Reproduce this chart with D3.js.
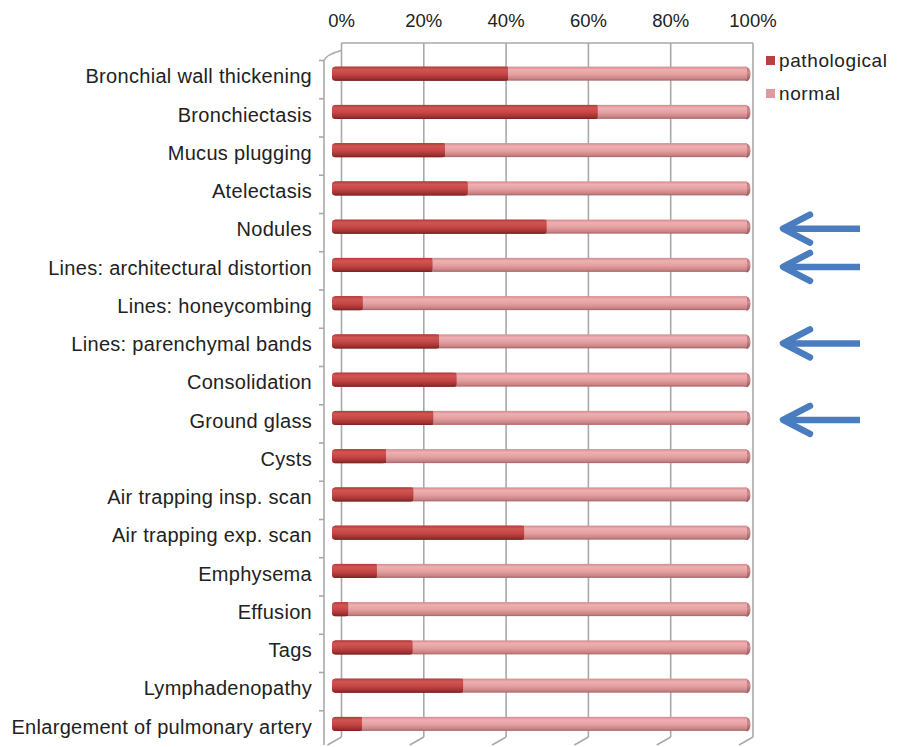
<!DOCTYPE html>
<html>
<head>
<meta charset="utf-8">
<script src="https://cdn.jsdelivr.net/npm/d3@7"></script>
<style>
  html, body { margin: 0; padding: 0; background: #fff; }
  svg { display: block; }
  text { font-family: "Liberation Sans", Arial, Helvetica, sans-serif; fill: #222; }
</style>
</head>
<body>
<svg id="chart" width="897" height="747"></svg>
<script>
// CT findings: share of pathological vs normal readings
const categories = [
  "Bronchial wall thickening",
  "Bronchiectasis",
  "Mucus plugging",
  "Atelectasis",
  "Nodules",
  "Lines: architectural distortion",
  "Lines: honeycombing",
  "Lines: parenchymal bands",
  "Consolidation",
  "Ground glass",
  "Cysts",
  "Air trapping insp. scan",
  "Air trapping exp. scan",
  "Emphysema",
  "Effusion",
  "Tags",
  "Lymphadenopathy",
  "Enlargement of pulmonary artery"
];
const pathological = [42.4, 64.0, 27.2, 32.7, 51.7, 24.2, 7.4, 25.8, 30.0, 24.4, 13.0, 19.6, 46.3, 10.8, 3.9, 19.4, 31.6, 7.2];
const normal = pathological.map(v => 100 - v);
const seriesNames = ["pathological", "normal"];
const tickValues = [0, 20, 40, 60, 80, 100];
const highlighted = ["Nodules", "Lines: architectural distortion", "Lines: parenchymal bands", "Ground glass"];

const svg = d3.select("#chart");
const defs = svg.append("defs");

// front face of the bars and back wall of the 3D plot area
const xFront = d3.scaleLinear().domain([0, 100]).range([332, 747]);
const xBack = d3.scaleLinear().domain([0, 100]).range([341.5, 753]);
const y = d3.scaleBand().domain(categories).range([54.5, 743]).padding(0);
const barH = 14;
const wallTop = 43, wallBottom = 737, frontBottom = 745, sideX = 324;

// shaded gradients for the cylinder-like bars
function grad(id, stops) {
  const g = defs.append("linearGradient").attr("id", id)
    .attr("x1", 0).attr("y1", 0).attr("x2", 0).attr("y2", 1);
  stops.forEach(([o, c]) => g.append("stop").attr("offset", o).attr("stop-color", c));
}
grad("gPath", [[0, "#b23a3a"], [0.22, "#d05653"], [0.55, "#c44645"], [0.85, "#a03131"], [1, "#7a2222"]]);
grad("gNorm", [[0, "#d48a8c"], [0.22, "#eeb0b2"], [0.55, "#e59fa1"], [0.85, "#c98486"], [1, "#a46365"]]);
grad("gCap", [[0, "#bd7274"], [0.4, "#d08a8c"], [1, "#975658"]]);

const grid = svg.append("g").attr("stroke", "#a9a9a9").attr("stroke-width", 1.6).attr("fill", "none");

// back wall: vertical gridlines and top edge
grid.selectAll("line.v").data(tickValues).join("line")
  .attr("x1", d => xBack(d)).attr("x2", d => xBack(d))
  .attr("y1", wallTop).attr("y2", wallBottom);
grid.append("line").attr("x1", xBack(0)).attr("x2", xBack(100)).attr("y1", wallTop).attr("y2", wallTop);

// floor: short receding lines at each gridline
grid.selectAll("line.f").data(tickValues).join("line")
  .attr("x1", d => xBack(d) - 14).attr("y1", frontBottom)
  .attr("x2", d => xBack(d)).attr("y2", wallBottom);

// side wall with category ticks
const sideTop = y(categories[0]) + 6;
grid.append("line").attr("x1", sideX).attr("x2", sideX).attr("y1", sideTop).attr("y2", frontBottom);
grid.append("path").attr("d", `M${sideX},${sideTop} Q${sideX + 2},${sideTop - 6} ${xBack(0)},${sideTop - 10}`);
grid.selectAll("line.t").data(categories).join("line")
  .attr("x1", sideX - 5).attr("x2", sideX)
  .attr("y1", d => y(d) + 6).attr("y2", d => y(d) + 6);

// top percentage axis
svg.append("g").selectAll("text").data(tickValues).join("text")
  .attr("x", d => xBack(d)).attr("y", 27)
  .attr("text-anchor", "middle")
  .style("font-size", "18.5px")
  .text(d => d + "%");

// category labels
svg.append("g").selectAll("text").data(categories).join("text")
  .attr("x", 312).attr("y", d => y(d) + y.bandwidth() / 2 + 9.7)
  .attr("text-anchor", "end")
  .style("font-size", "20px")
  .style("letter-spacing", "0.3px")
  .text(d => d);

// stacked bars
const rows = categories.map((c, i) => ({ c, p: pathological[i], n: normal[i] }));
const bars = svg.append("g").selectAll("g").data(rows).join("g")
  .attr("transform", d => `translate(0,${y(d.c) + y.bandwidth() / 2 - barH / 2})`);

// right end cap of each bar
bars.append("ellipse")
  .attr("cx", xFront(100)).attr("cy", barH / 2 + 0.5)
  .attr("rx", 3.5).attr("ry", barH / 2)
  .attr("fill", "url(#gCap)");
bars.append("rect")
  .attr("x", d => xFront(d.p)).attr("y", 0)
  .attr("width", d => xFront(100) - xFront(d.p)).attr("height", barH)
  .attr("fill", "url(#gNorm)");
bars.append("rect")
  .attr("x", xFront(0)).attr("y", 0)
  .attr("width", d => xFront(d.p) - xFront(0)).attr("height", barH)
  .attr("rx", 3).attr("fill", "url(#gPath)");
bars.append("rect")
  .attr("x", xFront(0) + 3).attr("y", 0)
  .attr("width", d => Math.max(0, xFront(d.p) - xFront(0) - 3)).attr("height", barH)
  .attr("fill", "url(#gPath)");

// legend
const legColors = ["#b8403f", "#dc9c9e"];
const leg = svg.append("g").selectAll("g").data(seriesNames).join("g")
  .attr("transform", (d, i) => `translate(766,${56 + i * 33})`);
leg.append("rect").attr("width", 9).attr("height", 9).attr("fill", (d, i) => legColors[i]);
leg.append("text").attr("x", 13).attr("y", 11)
  .style("font-size", "19px").style("letter-spacing", "0.6px")
  .text(d => d);

// arrows marking the findings of interest
const arrows = svg.append("g").attr("stroke", "#4a7dbf").attr("stroke-width", 6.5)
  .attr("stroke-linecap", "round").attr("stroke-linejoin", "round").attr("fill", "none");
highlighted.forEach(c => {
  const cy = y(c) + y.bandwidth() / 2 + 2;
  arrows.append("line").attr("x1", 860).attr("x2", 786).attr("y1", cy).attr("y2", cy)
    .attr("stroke-linecap", "butt");
  arrows.append("polyline").attr("points", `810,${cy - 14} 783,${cy} 810,${cy + 14}`);
});
</script>
</body>
</html>
